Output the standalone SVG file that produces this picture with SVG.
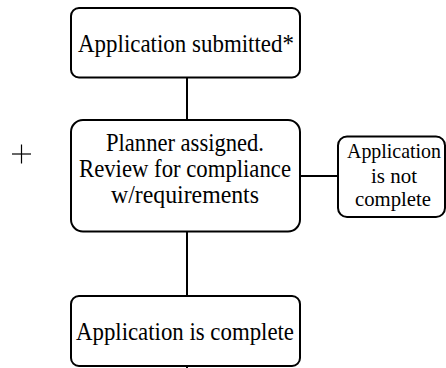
<svg xmlns="http://www.w3.org/2000/svg" width="446" height="368" viewBox="0 0 446 368" font-family="Liberation Serif, serif">
<style>
.box{fill:#fff;stroke:#000;stroke-width:2}
.ln{stroke:#000;stroke-width:2;fill:none}
</style>
<rect width="446" height="368" fill="#fff"/>
<g id="connectors">
<line class="ln" x1="187" y1="78" x2="187" y2="120"/>
<line class="ln" x1="187" y1="232" x2="187" y2="296"/>
<line class="ln" x1="187" y1="366" x2="187" y2="368"/>
<line class="ln" x1="301" y1="176" x2="338" y2="176"/>
</g>
<g id="plus">
<line x1="12" y1="154" x2="31" y2="154" stroke="#000" stroke-width="1.2"/>
<line x1="21.5" y1="144.5" x2="21.5" y2="163.5" stroke="#000" stroke-width="1.2"/>
</g>
<g id="n1" font-family="Liberation Serif, serif" font-size="26" text-anchor="middle" fill="#000">
<rect class="box" x="71" y="8" width="229" height="69.5" rx="8"/>
<text x="186" y="52" textLength="216" lengthAdjust="spacingAndGlyphs">Application submitted*</text>
</g>
<g id="n2" font-family="Liberation Serif, serif" font-size="25" text-anchor="middle" fill="#000">
<rect class="box" x="71" y="120" width="229" height="111.5" rx="12"/>
<text x="185" y="151" textLength="158" lengthAdjust="spacingAndGlyphs">Planner assigned.</text>
<text x="185" y="177" textLength="212" lengthAdjust="spacingAndGlyphs">Review for compliance</text>
<text x="185" y="203" textLength="148" lengthAdjust="spacingAndGlyphs">w/requirements</text>
</g>
<g id="n3" font-family="Liberation Serif, serif" font-size="26" text-anchor="middle" fill="#000">
<rect class="box" x="71" y="296" width="229" height="70" rx="8"/>
<text x="185" y="340" textLength="218" lengthAdjust="spacingAndGlyphs">Application is complete</text>
</g>
<g id="n4" font-family="Liberation Serif, serif" font-size="21" text-anchor="middle" fill="#000">
<rect class="box" x="338" y="136.5" width="107" height="80.5" rx="9"/>
<text x="394" y="158" textLength="94" lengthAdjust="spacingAndGlyphs">Application</text>
<text x="394" y="183" textLength="46" lengthAdjust="spacingAndGlyphs">is not</text>
<text x="393" y="206" textLength="76" lengthAdjust="spacingAndGlyphs">complete</text>
</g>
</svg>
